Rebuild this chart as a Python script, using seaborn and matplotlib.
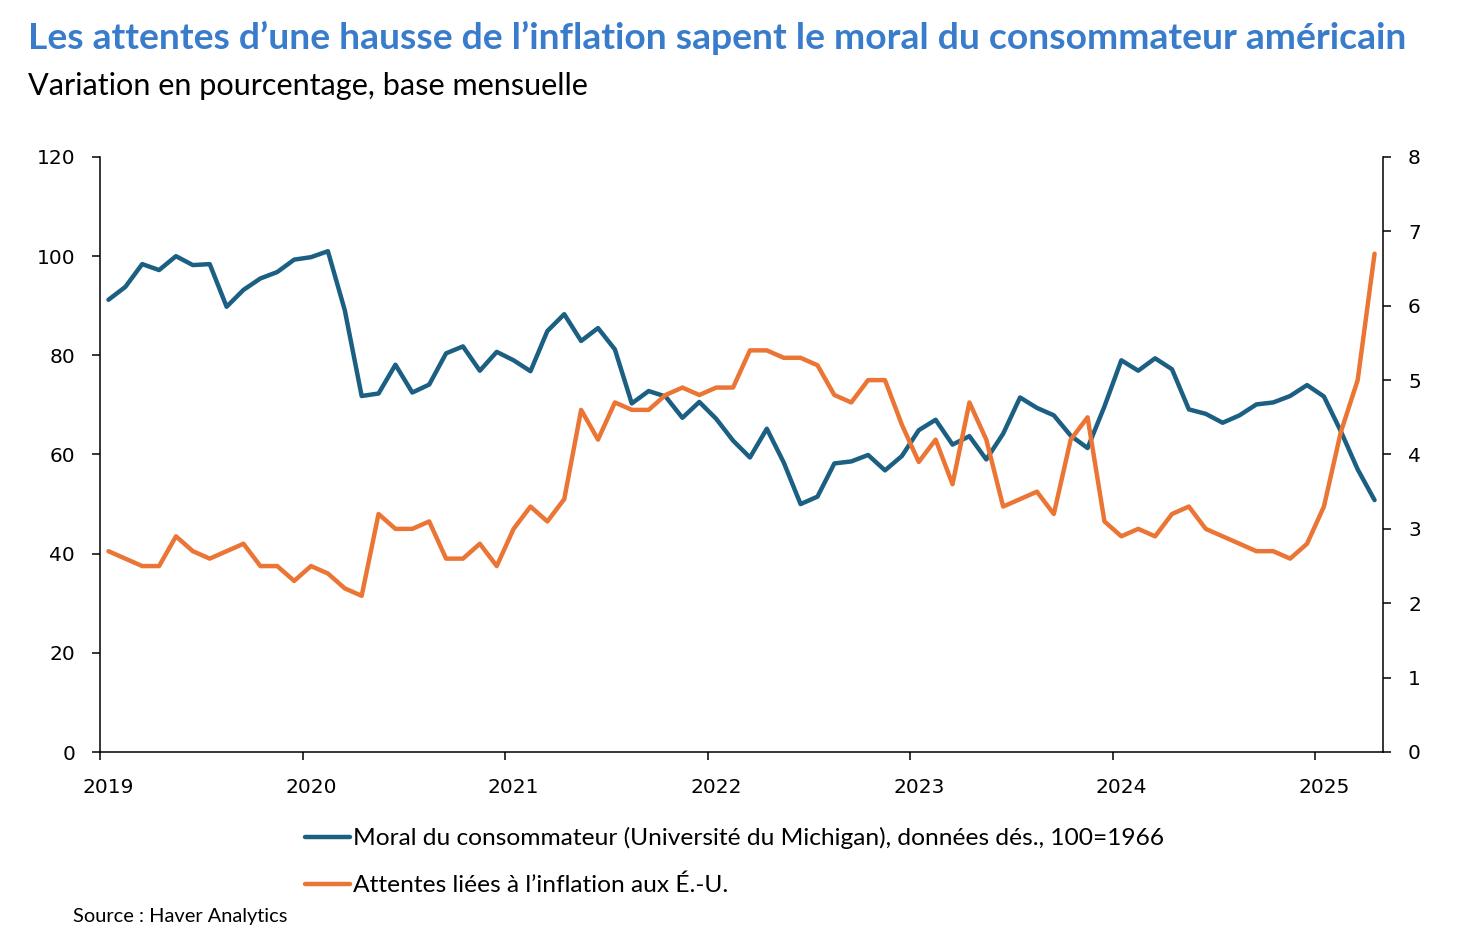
import numpy as np
import pandas as pd
import matplotlib
matplotlib.use('Agg')
import matplotlib.pyplot as plt
import seaborn as sns

# Monthly observations, Jan 2019 to Apr 2025
first_month = '2019-01'
last_month = '2025-04'
year_labels = ['2019', '2020', '2021', '2022', '2023', '2024', '2025']

# University of Michigan consumer sentiment (100 = 1966)
sentiment = [
    91.2, 93.8, 98.4, 97.2, 100.0, 98.2, 98.4, 89.8, 93.2, 95.5, 96.8, 99.3,
    99.8, 101.0, 89.1, 71.8, 72.3, 78.1, 72.5, 74.1, 80.4, 81.8, 76.9, 80.7,
    79.0, 76.8, 84.9, 88.3, 82.9, 85.5, 81.2, 70.3, 72.8, 71.7, 67.4, 70.6,
    67.2, 62.8, 59.4, 65.2, 58.4, 50.0, 51.5, 58.2, 58.6, 59.9, 56.8, 59.7,
    64.9, 67.0, 62.0, 63.7, 59.0, 64.2, 71.5, 69.4, 67.9, 63.8, 61.3, 69.7,
    79.0, 76.9, 79.4, 77.2, 69.1, 68.2, 66.4, 67.9, 70.1, 70.5, 71.8, 74.0,
    71.7, 64.7, 57.0, 50.8,
]

# US inflation expectations (%)
inflation_exp = [
    2.7, 2.6, 2.5, 2.5, 2.9, 2.7, 2.6, 2.7, 2.8, 2.5, 2.5, 2.3,
    2.5, 2.4, 2.2, 2.1, 3.2, 3.0, 3.0, 3.1, 2.6, 2.6, 2.8, 2.5,
    3.0, 3.3, 3.1, 3.4, 4.6, 4.2, 4.7, 4.6, 4.6, 4.8, 4.9, 4.8,
    4.9, 4.9, 5.4, 5.4, 5.3, 5.3, 5.2, 4.8, 4.7, 5.0, 5.0, 4.4,
    3.9, 4.2, 3.6, 4.7, 4.2, 3.3, 3.4, 3.5, 3.2, 4.2, 4.5, 3.1,
    2.9, 3.0, 2.9, 3.2, 3.3, 3.0, 2.9, 2.8, 2.7, 2.7, 2.6, 2.8,
    3.3, 4.3, 5.0, 6.7,
]

label_sentiment = 'Moral du consommateur (Université du Michigan), données dés., 100=1966'
label_inflation = 'Attentes liées à l\u2019inflation aux É.-U.'

BLUE = '#1b5f82'
ORANGE = '#eb7535'
TITLE_BLUE = '#3a7ccc'

months = pd.period_range(first_month, last_month, freq='M')
df = pd.DataFrame({
    'mois': np.arange(len(months)),
    'moral': sentiment,
    'attentes': inflation_exp,
})

sns.set_theme(style='ticks')
plt.rcParams['font.family'] = ['Lato', 'DejaVu Sans']
plt.rcParams['text.color'] = 'black'

W, H = 1477, 943
fig = plt.figure(figsize=(W / 100, H / 100), dpi=100)
ax = fig.add_axes([100 / W, 1 - 752 / H, 1283 / W, 595 / H])
ax2 = ax.twinx()

sns.lineplot(data=df, x='mois', y='moral', ax=ax, color=BLUE, linewidth=3.2)
sns.lineplot(data=df, x='mois', y='attentes', ax=ax2, color=ORANGE, linewidth=3.2)


def fit_size(text, width_px, **kw):
    t = fig.text(0, 0, text, fontsize=20, **kw)
    w = t.get_window_extent(fig.canvas.get_renderer()).width
    t.remove()
    return 20 * width_px / w


# axes setup
ax.set_xlim(-0.5, len(months) - 0.5)
ax.set_ylim(0, 120)
ax2.set_ylim(0, 8)
ax.set_yticks(range(0, 121, 20))
ax2.set_yticks(range(0, 9))
ax.set_xlabel('')
ax.set_ylabel('')
ax2.set_ylabel('')

for a in (ax, ax2):
    a.spines['top'].set_visible(False)
    for s in a.spines.values():
        s.set_color('black')
        s.set_linewidth(1.1)
    a.grid(False)
    a.tick_params(axis='y', length=6, width=1.1, color='black', pad=12,
                  labelcolor='black', labelsize=14.5,
                  labelfontfamily='DejaVu Sans')
ax2.spines['left'].set_visible(False)
ax.spines['right'].set_visible(False)
ax2.spines['bottom'].set_visible(False)

# year boundaries get the tick marks, the labels sit on January
year_pos = np.arange(len(year_labels)) * 12
ax.set_xticks(year_pos - 0.5)
ax.set_xticklabels([])
ax.set_xticks(year_pos, minor=True)
ax.tick_params(axis='x', which='major', length=6, width=1.1, color='black')
ax.tick_params(axis='x', which='minor', length=0, pad=19)
ax.set_xticklabels(year_labels, minor=True, fontsize=14.5,
                   fontfamily='DejaVu Sans', color='black')

# titles
title = 'Les attentes d\u2019une hausse de l\u2019inflation sapent le moral du consommateur américain'
subtitle = 'Variation en pourcentage, base mensuelle'
fs_title = fit_size(title, 1379, fontweight='bold')
fs_sub = fit_size(subtitle, 562)
fig.text(28 / W, 1 - 49 / H, title, fontsize=fs_title, fontweight='bold',
         color=TITLE_BLUE, va='baseline')
fig.text(28 / W, 1 - 95 / H, subtitle, fontsize=fs_sub, color='black',
         va='baseline')

# legend
fs_leg = fit_size(label_sentiment, 811)
fs_leg_px = fs_leg * 100 / 72
handles = [ax.lines[0], ax2.lines[0]]
fig.legend(handles, [label_sentiment, label_inflation], loc='upper left',
           bbox_to_anchor=(305 / W, 1 - 827 / H), frameon=False,
           fontsize=fs_leg, handlelength=45 / fs_leg_px,
           handletextpad=3 / fs_leg_px, labelspacing=1.05,
           borderpad=0, borderaxespad=0)

# source
fs_src = fit_size('Source : Haver Analytics', 215)
fig.text(73 / W, 1 - 922 / H, 'Source : Haver Analytics', fontsize=fs_src,
         color='black', va='baseline')

fig.savefig('out.png', dpi=100)
